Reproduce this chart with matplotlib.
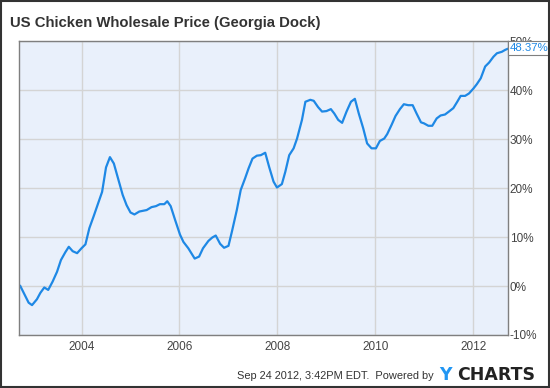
import matplotlib.pyplot as plt
from matplotlib.patches import Rectangle

# data (decimal year, % change since start)
years = [2002.75, 2002.92, 2002.99, 2003.09, 2003.16, 2003.24, 2003.32, 2003.41, 2003.50, 2003.58,
         2003.67, 2003.74, 2003.82, 2003.91, 2004.00, 2004.08, 2004.16, 2004.25, 2004.34, 2004.42,
         2004.50, 2004.58, 2004.66, 2004.75, 2004.84, 2004.92, 2005.00, 2005.08, 2005.18, 2005.33,
         2005.43, 2005.52, 2005.60, 2005.69, 2005.75, 2005.82, 2005.91, 2006.01, 2006.08, 2006.18,
         2006.31, 2006.40, 2006.48, 2006.59, 2006.67, 2006.74, 2006.83, 2006.91, 2007.00, 2007.07,
         2007.17, 2007.25, 2007.34, 2007.41, 2007.49, 2007.58, 2007.66, 2007.75, 2007.83, 2007.92,
         2007.99, 2008.09, 2008.16, 2008.24, 2008.33, 2008.40, 2008.50, 2008.57, 2008.67, 2008.74,
         2008.83, 2008.91, 2009.00, 2009.09, 2009.16, 2009.24, 2009.32, 2009.41, 2009.50, 2009.58,
         2009.66, 2009.75, 2009.83, 2009.92, 2010.01, 2010.09, 2010.18, 2010.24, 2010.33, 2010.41,
         2010.50, 2010.58, 2010.67, 2010.76, 2010.84, 2010.93, 2010.99, 2011.08, 2011.16, 2011.25,
         2011.33, 2011.42, 2011.50, 2011.59, 2011.67, 2011.74, 2011.83, 2011.91, 2012.00, 2012.07,
         2012.15, 2012.24, 2012.32, 2012.41, 2012.48, 2012.58, 2012.65, 2012.69]
pct = [0.0, -3.4, -3.9, -2.7, -1.4, -0.3, -0.8, 0.9, 2.9, 5.3,
       6.9, 8.0, 7.1, 6.7, 7.7, 8.5, 11.8, 14.3, 16.9, 19.2,
       24.2, 26.3, 25.0, 21.8, 18.6, 16.5, 15.0, 14.6, 15.2, 15.5,
       16.1, 16.3, 16.7, 16.7, 17.3, 16.3, 13.5, 10.5, 9.0, 7.7,
       5.6, 6.0, 7.7, 9.2, 9.9, 10.3, 8.6, 7.8, 8.2, 11.1,
       15.5, 19.6, 22.0, 24.0, 26.0, 26.6, 26.7, 27.2, 24.3, 21.3,
       20.1, 20.8, 23.3, 26.7, 28.1, 30.1, 33.9, 37.6, 38.0, 37.8,
       36.5, 35.6, 35.7, 36.1, 35.2, 33.9, 33.3, 35.6, 37.6, 38.2,
       35.2, 32.2, 29.1, 28.1, 28.1, 29.6, 30.1, 31.0, 32.9, 34.7,
       36.1, 37.1, 36.9, 36.9, 35.2, 33.4, 33.2, 32.7, 32.7, 34.2,
       34.8, 35.0, 35.6, 36.3, 37.6, 38.8, 38.8, 39.3, 40.3, 41.2,
       42.4, 44.8, 45.6, 46.8, 47.5, 47.8, 48.2, 48.37]

x_ticks = [2004, 2006, 2008, 2010, 2012]
y_ticks = [-10, 0, 10, 20, 30, 40, 50]

fig = plt.figure(figsize=(5.5, 3.88), dpi=100)
fig.patch.set_facecolor('white')
fig.patches.append(Rectangle((0.0015, 0.002), 0.997, 0.996, transform=fig.transFigure,
                             fill=False, edgecolor='#333333', linewidth=1.5))

ax = fig.add_axes([0.0351, 0.1366, 0.888, 0.7577])
ax.set_facecolor('#e9f0fb')
ax.plot(years, pct, color='#1e88e5', linewidth=1.6, solid_joinstyle='round')

ax.set_xlim(2002.73, 2012.70)
ax.set_ylim(-10, 50)
ax.set_xticks(x_ticks)
ax.set_xticklabels([str(y) for y in x_ticks])
ax.set_yticks(y_ticks)
ax.set_yticklabels([f'{v}%' for v in y_ticks])
ax.yaxis.tick_right()
ax.tick_params(axis='both', length=0, labelsize=8.5, labelcolor='#444444',
               labelfontfamily='Liberation Sans')
ax.tick_params(axis='y', pad=1.5)
ax.tick_params(axis='x', pad=4)
ax.grid(True, color='#d4d4d4', linewidth=1)
ax.set_axisbelow(True)
for s in ax.spines.values():
    s.set_color('#7f7f7f')
    s.set_linewidth(1)

# last value label
ax.annotate(f'{pct[-1]:.2f}%', xy=(1, pct[-1]), xycoords=('axes fraction', 'data'),
            xytext=(1.6, 0.7), textcoords='offset points', va='center', ha='left',
            color='#1e88e5', fontsize=8.2, family='Liberation Sans',
            bbox=dict(boxstyle='square,pad=0.2', fc='white', ec='#7f7f7f', lw=0.8),
            annotation_clip=False, zorder=5)

fig.text(0.018, 0.931, 'US Chicken Wholesale Price (Georgia Dock)', fontsize=10.7,
         fontweight='bold', color='#333333', family='Liberation Sans', va='baseline')

fig.text(0.789, 0.023, 'Sep 24 2012, 3:42PM EDT.  Powered by', fontsize=7.9,
         color='#333333', family='Liberation Sans', ha='right', va='baseline')
y_logo = fig.text(0.798, 0.021, 'Y', fontsize=12.5, fontweight='bold', color='#2196f3',
                  family='DejaVu Sans', va='baseline')
fig.text(0.831, 0.021, 'CHARTS', fontsize=12.5, fontweight='bold', color='#222222',
         family='DejaVu Sans', va='baseline')

fig.savefig('out.png', dpi=100)
